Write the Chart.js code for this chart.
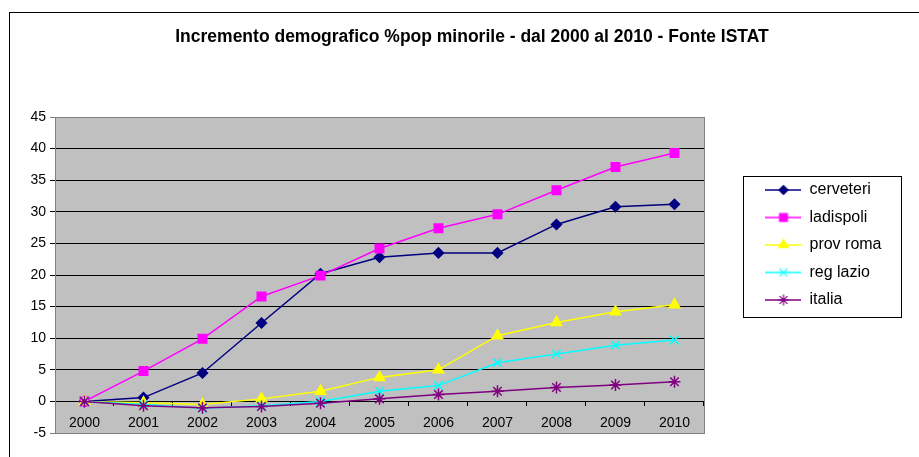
<!DOCTYPE html>
<html>
<head>
<meta charset="utf-8">
<script src="https://cdn.jsdelivr.net/npm/chart.js@4"></script>
<style>
  html, body { margin: 0; padding: 0; background: #fff; overflow: hidden; }
  #wrap { position: relative; width: 919px; height: 457px; }
  #frame { position: absolute; left: 9px; top: 12px; width: 1000px; height: 1000px; border: 1px solid #000; }
  #chart { position: absolute; left: 0; top: 0; }
</style>
</head>
<body>
<div id="wrap">
  <div id="frame"></div>
  <canvas id="chart" width="919" height="457"></canvas>
</div>
<script>
// dati ISTAT
const years = ['2000', '2001', '2002', '2003', '2004', '2005', '2006', '2007', '2008', '2009', '2010'];
const cerveteri = [0, 0.6, 4.5, 12.4, 20.2, 22.8, 23.5, 23.5, 28.0, 30.8, 31.2];
const ladispoli = [0, 4.8, 9.9, 16.6, 19.9, 24.2, 27.4, 29.6, 33.4, 37.1, 39.3];
const provRoma = [0, -0.2, -0.5, 0.4, 1.6, 3.8, 5.0, 10.4, 12.5, 14.2, 15.3];
const regLazio = [0, -0.5, -1.1, -0.7, 0, 1.6, 2.5, 6.1, 7.5, 8.9, 9.7];
const italia = [0, -0.7, -1.0, -0.8, -0.3, 0.4, 1.1, 1.6, 2.2, 2.6, 3.1];
const yTicks = [-5, 0, 5, 10, 15, 20, 25, 30, 35, 40, 45];

Chart.defaults.font.family = "'Liberation Sans', Arial, sans-serif";
Chart.defaults.color = '#000';

function serie(label, data, color, style, radius, order) {
    return {
        label, data, order,
        borderColor: color,
        backgroundColor: color,
        borderWidth: 1.5,
        pointStyle: style,
        pointRadius: radius,
        pointBorderWidth: 1.5,
        pointBackgroundColor: color,
        pointBorderColor: color,
        tension: 0
    };
}

// piccola icona linea + marcatore per la legenda
function legendIcon(ds) {
    const c = document.createElement('canvas');
    c.width = 36; c.height = 16;
    const g = c.getContext('2d');
    g.strokeStyle = ds.borderColor;
    g.lineWidth = 1.5;
    g.beginPath(); g.moveTo(0, 8); g.lineTo(36, 8); g.stroke();
    g.fillStyle = ds.borderColor;
    g.lineWidth = 1.2;
    Chart.helpers.drawPoint(g, {pointStyle: ds.pointStyle, radius: ds.pointRadius - 0.5, borderWidth: 1.2, rotation: 0}, 18, 8);
    return c;
}

// sfondo grigio dell'area del grafico, bordo, riquadro legenda
const plotFrame = {
    id: 'plotFrame',
    beforeDraw(chart) {
        const {ctx, chartArea: a} = chart;
        ctx.save();
        ctx.fillStyle = '#c0c0c0';
        ctx.fillRect(a.left, a.top, a.right - a.left, a.bottom - a.top);
        ctx.restore();
    },
    beforeDatasetsDraw(chart) {
        const {ctx, chartArea: a} = chart;
        ctx.save();
        ctx.strokeStyle = '#808080';
        ctx.lineWidth = 1;
        ctx.strokeRect(Math.round(a.left) + 0.5, Math.round(a.top) + 0.5, Math.round(a.right - a.left), Math.round(a.bottom - a.top));
        ctx.restore();
    },
    afterDraw(chart) {
        const boxes = chart.legend.legendHitBoxes;
        if (!boxes || !boxes.length) return;
        const l = Math.min(...boxes.map(b => b.left)) - 22;
        const r = Math.max(...boxes.map(b => b.left + b.width)) + 20;
        const t = boxes[0].top - 6;
        const b = boxes[boxes.length - 1].top + boxes[boxes.length - 1].height + 9;
        const ctx = chart.ctx;
        ctx.save();
        ctx.strokeStyle = '#000';
        ctx.lineWidth = 1;
        ctx.strokeRect(Math.round(l) + 0.5, Math.round(t) + 0.5, Math.round(r - l), Math.round(b - t));
        ctx.restore();
    }
};

// assi nascosti usati solo come spaziatura ai lati della legenda
function spacer(width, weight) {
    return {
        type: 'linear',
        position: 'right',
        display: false,
        weight,
        afterFit(scale) { scale.width = width; }
    };
}

const ctx = document.getElementById('chart').getContext('2d');
const chart = new Chart(ctx, {
    type: 'line',
    data: {
        labels: years,
        datasets: [
            serie('cerveteri', cerveteri, '#000080', 'rectRot', 5, 5),
            serie('ladispoli', ladispoli, '#ff00ff', 'rect', 6, 4),
            serie('prov roma', provRoma, '#ffff00', 'triangle', 6, 3),
            serie('reg lazio', regLazio, '#00ffff', 'crossRot', 6, 2),
            serie('italia', italia, '#800080', 'star', 6, 1)
        ]
    },
    options: {
        responsive: false,
        animation: false,
        layout: { padding: { left: 25, right: 0, top: 0, bottom: 24 } },
        plugins: {
            title: {
                display: true,
                text: 'Incremento demografico %pop minorile - dal 2000 al 2010 - Fonte ISTAT',
                font: { size: 17.5, weight: 'bold' },
                color: '#000',
                padding: { top: 27, bottom: 69 }
            },
            legend: {
                position: 'right',
                align: 'start',
                fullSize: false,
                reverse: true,
                title: { display: true, text: '', font: { size: 10, lineHeight: 1 }, padding: { top: 43.5, bottom: 0 } },
                labels: {
                    usePointStyle: true,
                    pointStyleWidth: 36,
                    padding: 11.5,
                    color: '#000',
                    font: { size: 16 },
                    generateLabels(chart) {
                        const items = Chart.defaults.plugins.legend.labels.generateLabels(chart);
                        items.forEach(it => {
                            it.pointStyle = legendIcon(chart.data.datasets[it.datasetIndex]);
                        });
                        return items;
                    }
                }
            },
            tooltip: { enabled: false }
        },
        scales: {
            x: {
                type: 'category',
                offset: true,
                position: { y: 0 },
                grid: {
                    offset: true,
                    drawOnChartArea: false,
                    drawTicks: true,
                    tickLength: 4,
                    color: '#000'
                },
                border: { display: true, color: '#000', width: 1 },
                ticks: { padding: 9, font: { size: 14 }, color: '#000', maxRotation: 0 }
            },
            y: {
                min: -5,
                max: 45,
                afterFit(scale) { scale.width = 30; },
                afterBuildTicks(scale) { scale.ticks = yTicks.map(v => ({value: v})); },
                grid: {
                    color: c => (c.tick && (c.tick.value === 45 || c.tick.value === -5)) ? '#808080' : '#000',
                    tickLength: 5,
                    lineWidth: 1
                },
                border: { display: true, color: '#808080' },
                ticks: { padding: 4, font: { size: 14 }, color: '#000' }
            },
            spacerIn: spacer(50, 0),
            spacerOut: spacer(27.5, 3000)
        }
    },
    plugins: [plotFrame]
});
</script>
</body>
</html>
